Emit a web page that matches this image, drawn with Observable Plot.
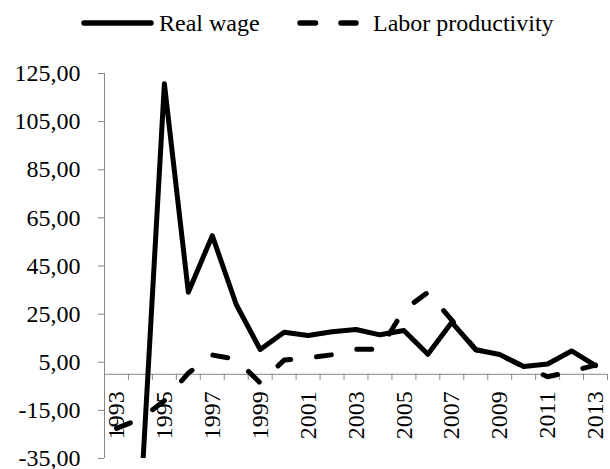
<!DOCTYPE html>
<html><head><meta charset="utf-8">
<script src="https://cdn.jsdelivr.net/npm/d3@7"></script>
<script src="https://cdn.jsdelivr.net/npm/@observablehq/plot@0.6"></script>
<style>
body{margin:0;background:#fff;font-family:"Liberation Serif","Times New Roman",serif;}
#legend{display:block;}
#chart svg{overflow:visible;}
#chart svg, #chart svg text{font-family:"Liberation Serif","Times New Roman",serif !important;}
</style></head><body>
<svg id="legend" width="610" height="45" font-family="Liberation Serif" font-size="24">
  <line x1="84" y1="23" x2="151" y2="23" stroke="#000" stroke-width="5.5" stroke-linecap="round"/>
  <text x="159" y="31" fill="#000">Real wage</text>
  <line x1="300" y1="23" x2="356" y2="23" stroke="#000" stroke-width="5.5" stroke-linecap="round" stroke-dasharray="15.5,25.5"/>
  <text x="373" y="31" fill="#000">Labor productivity</text>
</svg>
<div id="chart"></div>
<script>
const years = [1993,1994,1995,1996,1997,1998,1999,2000,2001,2002,2003,2004,2005,2006,2007,2008,2009,2010,2011,2012,2013];
const realWage = [null,-55,120.7,34.1,57.6,29,10.3,17.5,16.1,17.7,18.6,16.4,18.2,8.3,21.6,10.2,8.2,3.2,4.3,9.7,3.6];
const laborProductivity = [-22.5,-18.5,-11,0.5,8.0,6.2,-3.6,5.9,6.8,8.1,10.4,10.4,26.8,34.0,22.5,10.2,8.2,3.2,-1.0,1.2,3.8];
const yTicks = [-35,-15,5,25,45,65,85,105,125];
const xLabels = [1993,1995,1997,1999,2001,2003,2005,2007,2009,2011,2013];

const data = years.map((y,i)=>({year:y, wage:realWage[i], prod:laborProductivity[i]}));
const boundaries = [...years.map(y=>y-0.5), years[years.length-1]+0.5];
const fmt = d => (d<0?"-":"") + Math.abs(d).toFixed(2).replace(".", ",");
const gray = "#868686";

const chart = Plot.plot({
  width:610, height:424,
  marginTop:28, marginBottom:11, marginLeft:104, marginRight:3,
  x:{domain:[boundaries[0], boundaries[boundaries.length-1]], axis:null},
  y:{domain:[-35,125], axis:null},
  style:{fontFamily:"'Liberation Serif', serif", fontSize:"24px", color:"#000", background:"#fff"},
  marks:[
    Plot.ruleX([boundaries[0]], {stroke:gray, strokeWidth:1}),
    Plot.axisY({ticks:yTicks, tickFormat:fmt, tickSize:6, tickPadding:18, stroke:gray, fill:"#000", fontSize:24}),
    Plot.ruleY([0], {stroke:gray, strokeWidth:1}),
    Plot.ruleX(boundaries, {x:d=>d, y1:0, y2:0, insetBottom:-6, stroke:gray, strokeWidth:1}),
    Plot.text(xLabels, {x:d=>d, y:0, text:d=>String(d), rotate:-90, textAnchor:"end", dy:17, fontSize:24, fill:"#000"}),
    Plot.line(data, {x:"year", y:"wage", stroke:"#000", strokeWidth:5, strokeLinejoin:"round", strokeLinecap:"round", clip:true}),
    Plot.line(data, {x:"year", y:"prod", stroke:"#000", strokeWidth:5, strokeDasharray:"15,26", strokeLinejoin:"round", strokeLinecap:"round", clip:true})
  ]
});
document.getElementById("chart").appendChild(chart);
</script>
</body></html>
